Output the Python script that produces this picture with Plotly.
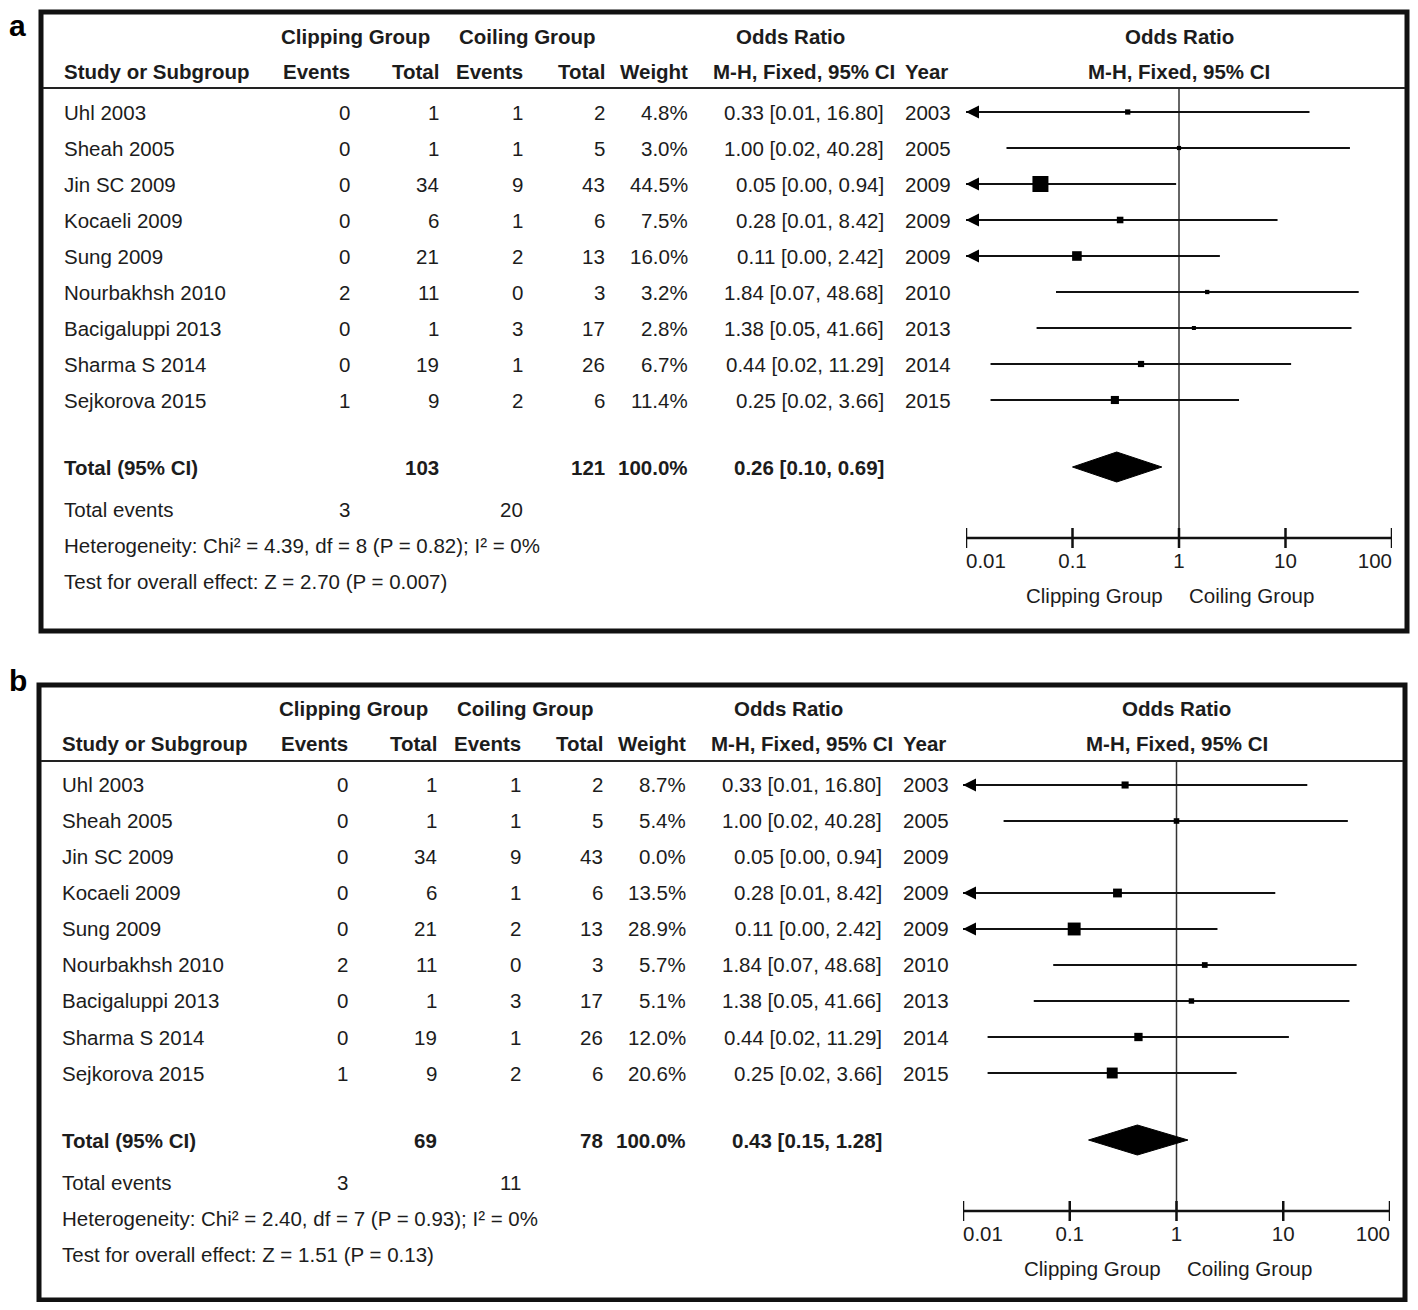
import math
import plotly.graph_objects as go

# ---------------- data ----------------
studies = ["Uhl 2003", "Sheah 2005", "Jin SC 2009", "Kocaeli 2009", "Sung 2009",
           "Nourbakhsh 2010", "Bacigaluppi 2013", "Sharma S 2014", "Sejkorova 2015"]
years = [2003, 2005, 2009, 2009, 2009, 2010, 2013, 2014, 2015]
clip_events = [0, 0, 0, 0, 0, 2, 0, 0, 1]
clip_total = [1, 1, 34, 6, 21, 11, 1, 19, 9]
coil_events = [1, 1, 9, 1, 2, 0, 3, 1, 2]
coil_total = [2, 5, 43, 6, 13, 3, 17, 26, 6]
or_est = [0.33, 1.00, 0.05, 0.28, 0.11, 1.84, 1.38, 0.44, 0.25]
or_lo = [0.007, 0.024, 0.003, 0.009, 0.004, 0.07, 0.046, 0.017, 0.017]
or_hi = [16.80, 40.28, 0.94, 8.42, 2.42, 48.68, 41.66, 11.29, 3.66]
weight_a = [4.8, 3.0, 44.5, 7.5, 16.0, 3.2, 2.8, 6.7, 11.4]
weight_b = [8.7, 5.4, 0.0, 13.5, 28.9, 5.7, 5.1, 12.0, 20.6]

pooled_a = [0.26, 0.10, 0.69]
pooled_b = [0.43, 0.15, 1.28]
totals_a = [103, 121]
totals_b = [69, 78]
events_a = [3, 20]
events_b = [3, 11]
het_a = "Heterogeneity: Chi² = 4.39, df = 8 (P = 0.82); I² = 0%"
het_b = "Heterogeneity: Chi² = 2.40, df = 7 (P = 0.93); I² = 0%"
test_a = "Test for overall effect: Z = 2.70 (P = 0.007)"
test_b = "Test for overall effect: Z = 1.51 (P = 0.13)"

tick_vals = [0.01, 0.1, 1, 10, 100]
tick_text = ["0.01", "0.1", "1", "10", "100"]
favours = ["Clipping Group", "Coiling Group"]

# ---------------- styling / geometry ----------------
OX, OY = 8, 8              # page body margin
W, H = 1410, 1294
FONT = "Liberation Sans, Arial, sans-serif"
TXT = "#1c1c1c"
FS = 20.5
ROW0, ROWH = 112, 36


def rw(px):
    return (px - ROW0) / ROWH


def PX(x):
    return (x - OX) / W


def PY(y):
    return 1 - (y - OY) / H


Y_TOP, Y_BOT = rw(12), rw(615)

panels = [
    dict(label="a", dx=0, dy=0, bot=631, ly=8, lanchor="top",
         weights=weight_a, pooled=pooled_a, totals=totals_a,
         events=events_a, het=het_a, test=test_a, fx=(966, 1392), sfx=""),
    dict(label="b", dx=-2, dy=673, bot=1300, ly=680, lanchor="middle",
         weights=weight_b, pooled=pooled_b, totals=totals_b,
         events=events_b, het=het_b, test=test_b, fx=(963, 1390), sfx="2"),
]

fig = go.Figure()
annotations = []
shapes = []


def fmt_or(e, lo, hi):
    return f"{e:.2f} [{lo:.2f}, {hi:.2f}]"


for p in panels:
    dx, dy, sfx = p["dx"], p["dy"], p["sfx"]
    xa, ya = "x" + sfx, "y" + sfx

    def A(text, xpx, row, anchor, bold=False, xref="paper"):
        annotations.append(dict(
            text=f"<b>{text}</b>" if bold else text,
            x=PX(xpx + dx) if xref == "paper" else xpx, xref=xref,
            y=row, yref=ya, xanchor=anchor, yanchor="middle", showarrow=False,
            font=dict(family=FONT, size=FS, color=TXT)))

    h1, h2 = rw(36), rw(71)
    A("Clipping Group", 355, h1, "center", True)
    A("Coiling Group", 527, h1, "center", True)
    A("Odds Ratio", 790, h1, "center", True)
    A("Odds Ratio", 0, h1, "center", True, xref=xa)
    A("Study or Subgroup", 62, h2, "left", True)
    A("Events", 352, h2, "right", True)
    A("Total", 441, h2, "right", True)
    A("Events", 525, h2, "right", True)
    A("Total", 607, h2, "right", True)
    A("Weight", 690, h2, "right", True)
    A("M-H, Fixed, 95% CI", 804, h2, "center", True)
    A("Year", 903, h2, "left", True)
    A("M-H, Fixed, 95% CI", 0, h2, "center", True, xref=xa)

    for i, s in enumerate(studies):
        A(s, 62, i, "left")
        A(str(clip_events[i]), 352, i, "right")
        A(str(clip_total[i]), 441, i, "right")
        A(str(coil_events[i]), 525, i, "right")
        A(str(coil_total[i]), 607, i, "right")
        A(f"{p['weights'][i]:.1f}%", 690, i, "right")
        A(fmt_or(or_est[i], or_lo[i], or_hi[i]), 886, i, "right")
        A(str(years[i]), 903, i, "left")

    tr = rw(467)
    A("Total (95% CI)", 62, tr, "left", True)
    A(str(p["totals"][0]), 441, tr, "right", True)
    A(str(p["totals"][1]), 607, tr, "right", True)
    A("100.0%", 690, tr, "right", True)
    A(fmt_or(*p["pooled"]), 886, tr, "right", True)
    A("Total events", 62, rw(509), "left")
    A(str(p["events"][0]), 352, rw(509), "right")
    A(str(p["events"][1]), 525, rw(509), "right")
    A(p["het"], 62, rw(545), "left")
    A(p["test"], 62, rw(581), "left")

    # favours labels
    annotations.append(dict(text=favours[0], x=0, xref=xa, y=rw(595), yref=ya,
                            xanchor="right", xshift=-14, yanchor="middle", showarrow=False,
                            font=dict(family=FONT, size=FS, color=TXT)))
    annotations.append(dict(text=favours[1], x=0, xref=xa, y=rw(595), yref=ya,
                            xanchor="left", xshift=8, yanchor="middle", showarrow=False,
                            font=dict(family=FONT, size=FS, color=TXT)))
    # panel letter
    annotations.append(dict(text=f"<b>{p['label']}</b>", x=PX(8), xref="paper",
                            y=PY(p["ly"]), yref="paper", xanchor="left", yanchor=p["lanchor"],
                            showarrow=False, borderpad=0,
                            font=dict(family="Liberation Sans, Arial", size=30, color="black")))

    # box + header rule
    shapes.append(dict(type="rect", xref="paper", yref="paper",
                       x0=PX(41 + dx), x1=PX(1407 + dx),
                       y0=PY(p["bot"]), y1=PY(12 + dy),
                       line=dict(color="#111", width=5), fillcolor="rgba(0,0,0,0)"))
    shapes.append(dict(type="line", xref="paper", yref=ya,
                       x0=PX(43 + dx), x1=PX(1405 + dx), y0=rw(88), y1=rw(88),
                       line=dict(color="#222", width=2)))

    # null line
    fig.add_trace(go.Scatter(x=[1, 1], y=[rw(88), rw(538)], mode="lines",
                             line=dict(color="#333", width=1.5), xaxis=xa, yaxis=ya,
                             showlegend=False, hoverinfo="skip"))
    # CI lines
    cx, cy, axx, axy, sx, sy, ss = [], [], [], [], [], [], []
    for i in range(len(studies)):
        w = p["weights"][i]
        if w <= 0:
            continue
        lo = max(or_lo[i], tick_vals[0])
        cx += [lo, or_hi[i], None]
        cy += [i, i, None]
        if or_lo[i] < tick_vals[0]:
            axx.append(tick_vals[0])
            axy.append(i)
        sx.append(or_est[i])
        sy.append(i)
        ss.append(max(4.0, 2.4 * math.sqrt(w)))
    fig.add_trace(go.Scatter(x=cx, y=cy, mode="lines", line=dict(color="#111", width=2),
                             xaxis=xa, yaxis=ya, showlegend=False, hoverinfo="skip"))
    fig.add_trace(go.Scatter(x=axx, y=axy, mode="markers",
                             marker=dict(symbol="arrow-left", size=13, color="#000",
                                         line=dict(width=0)),
                             xaxis=xa, yaxis=ya, showlegend=False, hoverinfo="skip"))
    fig.add_trace(go.Scatter(x=sx, y=sy, mode="markers",
                             marker=dict(symbol="square", size=ss, color="#000",
                                         opacity=1, line=dict(width=0)),
                             xaxis=xa, yaxis=ya, showlegend=False, hoverinfo="skip"))
    # diamond
    e, lo, hi = p["pooled"]
    hh = 15 / ROWH
    fig.add_trace(go.Scatter(x=[lo, e, hi, e, lo], y=[tr, tr - hh, tr, tr + hh, tr],
                             mode="lines", fill="toself", fillcolor="#000",
                             line=dict(color="#000", width=1),
                             xaxis=xa, yaxis=ya, showlegend=False, hoverinfo="skip"))
    # axis line with crossing ticks
    ar = rw(538)
    fig.add_trace(go.Scatter(x=tick_vals, y=[ar] * len(tick_vals), mode="lines",
                             line=dict(color="#111", width=2.5),
                             error_y=dict(type="constant", value=10 / ROWH, width=0,
                                          thickness=2.5, color="#111"),
                             xaxis=xa, yaxis=ya, showlegend=False, hoverinfo="skip"))
    # tick labels
    pos = ["middle right"] + ["middle center"] * (len(tick_vals) - 2) + ["middle left"]
    fig.add_trace(go.Scatter(x=tick_vals, y=[rw(563)] * len(tick_vals), mode="text",
                             text=tick_text, textposition=pos,
                             textfont=dict(family=FONT, size=FS, color=TXT),
                             xaxis=xa, yaxis=ya, showlegend=False, hoverinfo="skip",
                             cliponaxis=False))

    fig.update_layout(**{
        "xaxis" + sfx: dict(type="log", range=[-2, 2], domain=[PX(p["fx"][0]), PX(p["fx"][1])],
                            anchor=ya, visible=False),
        "yaxis" + sfx: dict(range=[Y_BOT, Y_TOP], domain=[PY(615 + dy), PY(12 + dy)],
                            anchor=xa, visible=False),
    })

fig.update_layout(width=W, height=H, margin=dict(l=0, r=0, t=0, b=0),
                  paper_bgcolor="white", plot_bgcolor="white",
                  annotations=annotations, shapes=shapes, showlegend=False)
fig.write_html("out.html")
